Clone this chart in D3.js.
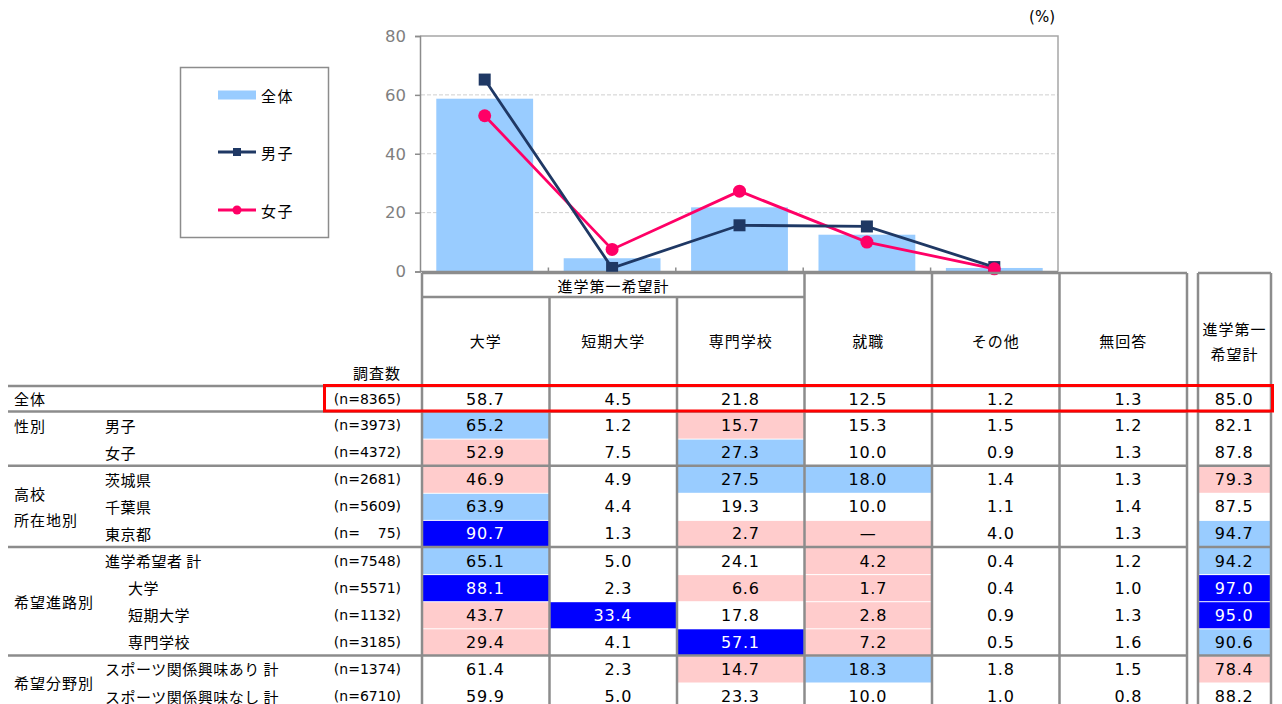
<!DOCTYPE html>
<html><head><meta charset="utf-8">
<script src="https://cdn.jsdelivr.net/npm/d3@7"></script>
<style>
html,body{margin:0;padding:0;background:#fff;}
svg{display:block;}
.jp{font-family:"Noto Sans CJK JP","Noto Sans",sans-serif;}
.num{font-family:"DejaVu Sans","Noto Sans CJK JP",sans-serif;}
</style></head>
<body>
<svg id="c" width="1282" height="704"></svg>
<script>
// ---------- chart data ----------
const categories = ['大学','短期大学','専門学校','就職','その他'];
const overall = [58.7, 4.5, 21.8, 12.5, 1.2];
const male    = [65.2, 1.2, 15.7, 15.3, 1.5];
const female  = [52.9, 7.5, 27.3, 10.0, 0.9];
const yTicks  = [0, 20, 40, 60, 80];
const legendLabels = ['全体','男子','女子'];

// ---------- table data ----------
const tableColumns = ['大学','短期大学','専門学校','就職','その他','無回答'];
const spanHeader = '進学第一希望計';
const totalHeader = ['進学第一','希望計'];
const groupLabels = [['全体'], ['性別'], ['高校','所在地別'], ['希望進路別'], ['希望分野別']];
const groupAlign  = ['middle','top','middle','middle','middle'];
const rowGroup  = [0,1,1,2,2,2,3,3,3,3,4,4];
const rowLevel  = [0,0,0,0,0,0,0,1,1,1,0,0];
const rowLabels = ['','男子','女子','茨城県','千葉県','東京都','進学希望者 計','大学','短期大学','専門学校','スポーツ関係興味あり 計','スポーツ関係興味なし 計'];
const rowN      = ['8365','3973','4372','2681','5609','\u2007\u200775','7548','5571','1132','3185','1374','6710'];
const rowValues = [
  ['58.7','4.5','21.8','12.5','1.2','1.3'],
  ['65.2','1.2','15.7','15.3','1.5','1.2'],
  ['52.9','7.5','27.3','10.0','0.9','1.3'],
  ['46.9','4.9','27.5','18.0','1.4','1.3'],
  ['63.9','4.4','19.3','10.0','1.1','1.4'],
  ['90.7','1.3','2.7','—','4.0','1.3'],
  ['65.1','5.0','24.1','4.2','0.4','1.2'],
  ['88.1','2.3','6.6','1.7','0.4','1.0'],
  ['43.7','33.4','17.8','2.8','0.9','1.3'],
  ['29.4','4.1','57.1','7.2','0.5','1.6'],
  ['61.4','2.3','14.7','18.3','1.8','1.5'],
  ['59.9','5.0','23.3','10.0','1.0','0.8']
];
const rowTotals = ['85.0','82.1','87.8','79.3','87.5','94.7','94.2','97.0','95.0','90.6','78.4','88.2'];
// significance marks: h = higher, l = lower, H = much higher, . = none (last char = total column)
const rowMarks = [
  '.......',
  'h.l....',
  'l.h....',
  'l.hh..l',
  'h......',
  'H.ll..h',
  'h..l..h',
  'H.ll..H',
  'lH.l..H',
  'l.Hl..h',
  '..lh..l',
  '.......'
];
const markFill = {h:'#99CCFF', l:'#FFCCCC', H:'#0000FF'};

const svg = d3.select('#c');
const GRAY = '#8C8C8C';

// ---------- chart ----------
const x = d3.scaleBand().domain(categories).range([421, 1058]).paddingInner(0).paddingOuter(0);
const y = d3.scaleLinear().domain([0, 80]).range([271.5, 36]);
const barW = x.bandwidth() * 0.76;
const cx = d => x(d) + x.bandwidth() / 2;

// gridlines
svg.append('g').selectAll('line').data(yTicks.filter(t => t > 0 && t < 80)).join('line')
  .attr('x1', 421).attr('x2', 1058).attr('y1', d => y(d)).attr('y2', d => y(d))
  .attr('stroke', '#CFCFCF').attr('stroke-width', 1).attr('stroke-dasharray', '4,2');

// bars
svg.append('g').selectAll('rect').data(categories).join('rect')
  .attr('x', d => cx(d) - barW / 2).attr('width', barW)
  .attr('y', (d, i) => y(overall[i])).attr('height', (d, i) => y(0) - y(overall[i]))
  .attr('fill', '#99CCFF');

// plot border (top & right)
svg.append('path').attr('d', `M420,${y(80)}H1058V${y(0)}`).attr('fill', 'none').attr('stroke', '#A6A6A6').attr('stroke-width', 1.5);

// y axis
const yAxis = d3.axisLeft(y).tickValues(yTicks).tickSize(5).tickPadding(9);
const ya = svg.append('g').attr('transform', 'translate(420,0)').call(yAxis);
ya.select('.domain').attr('stroke', GRAY).attr('stroke-width', 1.5);
ya.selectAll('.tick line').attr('stroke', GRAY).attr('stroke-width', 1.5);
ya.selectAll('.tick text').attr('class', 'num').attr('fill', '#7F7F7F').style('font-size', '16.5px');

// x axis line with inward ticks at category boundaries
const xa = svg.append('g');
xa.append('line').attr('x1', 420).attr('x2', 1058).attr('y1', y(0)).attr('y2', y(0)).attr('stroke', GRAY).attr('stroke-width', 1.5);
xa.selectAll('line.tk').data(categories.slice(1)).join('line').attr('class', 'tk')
  .attr('x1', d => x(d)).attr('x2', d => x(d)).attr('y1', y(0) - 4).attr('y2', y(0))
  .attr('stroke', GRAY).attr('stroke-width', 1.5);

// lines
const line = d3.line().x((d, i) => cx(categories[i])).y(d => y(d));
svg.append('path').datum(female).attr('d', line).attr('fill', 'none').attr('stroke', '#FF0066').attr('stroke-width', 2.8);
svg.append('path').datum(male).attr('d', line).attr('fill', 'none').attr('stroke', '#1F3864').attr('stroke-width', 2.8);
svg.append('g').selectAll('rect').data(male).join('rect')
  .attr('x', (d, i) => cx(categories[i]) - 6).attr('y', d => y(d) - 6).attr('width', 12).attr('height', 12)
  .attr('fill', '#1F3864');
svg.append('g').selectAll('circle').data(female).join('circle')
  .attr('cx', (d, i) => cx(categories[i])).attr('cy', d => y(d)).attr('r', 6.5)
  .attr('fill', '#FF0066');

// (%)
svg.append('text').attr('class', 'num').attr('x', 1055).attr('y', 17).attr('text-anchor', 'end')
  .attr('dominant-baseline', 'central').style('font-size', '15px').attr('fill', '#000').text('(%)');

// legend
const lg = svg.append('g');
lg.append('rect').attr('x', 180.5).attr('y', 67.5).attr('width', 148).attr('height', 170)
  .attr('fill', '#fff').attr('stroke', '#8C8C8C').attr('stroke-width', 1.5);
const legY = [95, 152, 210];
lg.append('rect').attr('x', 218).attr('y', legY[0] - 4.5).attr('width', 38).attr('height', 9).attr('fill', '#99CCFF');
lg.append('line').attr('x1', 218).attr('x2', 256).attr('y1', legY[1]).attr('y2', legY[1]).attr('stroke', '#1F3864').attr('stroke-width', 2.8);
lg.append('rect').attr('x', 233).attr('y', legY[1] - 4).attr('width', 8).attr('height', 8).attr('fill', '#1F3864');
lg.append('line').attr('x1', 218).attr('x2', 256).attr('y1', legY[2]).attr('y2', legY[2]).attr('stroke', '#FF0066').attr('stroke-width', 2.8);
lg.append('circle').attr('cx', 237).attr('cy', legY[2]).attr('r', 4.5).attr('fill', '#FF0066');
lg.selectAll('text').data(legendLabels).join('text').attr('class', 'jp')
  .attr('x', 261).attr('y', (d, i) => legY[i]).attr('dominant-baseline', 'central')
  .style('font-size', '15px').style('letter-spacing', '1.5px').attr('fill', '#000').text(d => d);

// ---------- table ----------
const col = d3.scaleBand().domain(tableColumns).range([422, 1187]);
const colC = d => col(d) + col.bandwidth() / 2;
const totL = 1198, totR = 1271, totC = (totL + totR) / 2;
const tableTop = 273, spanLine = 297;
const rowH = 27.1;

// compute row positions
const rowTop = [], rowBot = [], groupSep = [];
rowTop[0] = 386; rowBot[0] = 411.5;
let cur = 411.5, lastGroup = 0;
for (let r = 1; r < rowGroup.length; r++) {
  if (rowGroup[r] !== lastGroup) {
    if (r > 1) groupSep.push(cur);
    lastGroup = rowGroup[r];
  }
  rowTop[r] = cur; rowBot[r] = cur + rowH; cur += rowH;
}
const rowC = r => (rowTop[r] + rowBot[r]) / 2;

const tg = svg.append('g');

// cell fills
rowMarks.forEach((m, r) => {
  m.split('').forEach((ch, c) => {
    if (ch === '.') return;
    const isTot = c === tableColumns.length;
    const x0 = isTot ? totL : col(tableColumns[c]);
    const w = isTot ? totR - totL : col.bandwidth();
    tg.append('rect').attr('x', x0).attr('y', rowTop[r] + 1).attr('width', w).attr('height', rowBot[r] - rowTop[r] - 1)
      .attr('fill', markFill[ch]);
  });
});

const lineG = svg.append('g').attr('stroke', GRAY).attr('stroke-width', 2.5);
// table top lines
lineG.append('line').attr('x1', 422).attr('x2', 1187).attr('y1', tableTop).attr('y2', tableTop);
lineG.append('line').attr('x1', totL).attr('x2', totR).attr('y1', tableTop).attr('y2', tableTop);
lineG.append('line').attr('x1', 422).attr('x2', 805).attr('y1', spanLine).attr('y2', spanLine);
// vertical lines
const vEdges = tableColumns.map(d => col(d)).concat([1187]);
vEdges.forEach((vx, i) => {
  const top = (i === 1 || i === 2) ? spanLine : tableTop;
  lineG.append('line').attr('x1', vx).attr('x2', vx).attr('y1', top).attr('y2', 704);
});
[totL, totR].forEach(vx => lineG.append('line').attr('x1', vx).attr('x2', vx).attr('y1', tableTop).attr('y2', 704));
// horizontal lines: 全体 row top/bottom and group separators
[rowTop[0], rowBot[0]].concat(groupSep).forEach(hy => {
  lineG.append('line').attr('x1', 8).attr('x2', 1187).attr('y1', hy).attr('y2', hy);
  lineG.append('line').attr('x1', totL).attr('x2', totR).attr('y1', hy).attr('y2', hy);
});

// headers
const hdr = svg.append('g').attr('class', 'jp').style('font-size', '15px').style('letter-spacing', '1px').attr('fill', '#000');
hdr.append('text').attr('x', 613.5).attr('y', 285).attr('text-anchor', 'middle').attr('dominant-baseline', 'central').text(spanHeader);
hdr.selectAll('text.ch').data(tableColumns).join('text').attr('class', 'ch')
  .attr('x', d => colC(d)).attr('y', 340).attr('text-anchor', 'middle').attr('dominant-baseline', 'central').text(d => d);
hdr.selectAll('text.th').data(totalHeader).join('text').attr('class', 'th')
  .attr('x', totC).attr('y', (d, i) => 328 + i * 25).attr('text-anchor', 'middle').attr('dominant-baseline', 'central').text(d => d);
hdr.append('text').attr('x', 401).attr('y', 372).attr('text-anchor', 'end').attr('dominant-baseline', 'central').text('調査数');

// group labels
groupLabels.forEach((lab, g) => {
  const rs = rowGroup.map((v, i) => v === g ? i : -1).filter(i => i >= 0);
  let yc;
  if (groupAlign[g] === 'top') yc = rowC(rs[0]);
  else yc = (rowTop[rs[0]] + rowBot[rs[rs.length - 1]]) / 2;
  lab.forEach((t, k) => {
    hdr.append('text').attr('x', 14).attr('y', yc + (k - (lab.length - 1) / 2) * 26)
      .attr('dominant-baseline', 'central').text(t);
  });
});
// row labels
hdr.selectAll('text.rl').data(rowLabels).join('text').attr('class', 'rl')
  .attr('x', (d, i) => rowLevel[i] ? 128 : 105).attr('y', (d, i) => rowC(i))
  .attr('dominant-baseline', 'central').style('letter-spacing', '0.5px').text(d => d);

// n labels
svg.append('g').selectAll('text').data(rowN).join('text').attr('class', 'num')
  .attr('x', 401).attr('y', (d, i) => rowC(i)).attr('text-anchor', 'end').attr('dominant-baseline', 'central')
  .style('font-size', '14px').attr('fill', '#000').text(d => `(n=${d})`);

// values
const vg = svg.append('g').attr('class', 'num').style('font-size', '16px').style('letter-spacing', '0.8px');
rowValues.forEach((vals, r) => {
  vals.concat([rowTotals[r]]).forEach((v, c) => {
    const isTot = c === tableColumns.length;
    const center = isTot ? totC : colC(tableColumns[c]);
    const dash = v === '—';
    vg.append('text')
      .attr('x', dash ? center : center + 19)
      .attr('y', rowC(r) + 0.5)
      .attr('text-anchor', dash ? 'middle' : 'end')
      .attr('dominant-baseline', 'central')
      .attr('fill', rowMarks[r][c] === 'H' ? '#fff' : '#000')
      .text(v);
  });
});

// red highlight box
svg.append('rect').attr('x', 324.5).attr('y', 385.5).attr('width', 948).attr('height', 25.5)
  .attr('fill', 'none').attr('stroke', '#FF0000').attr('stroke-width', 3);
</script>
</body></html>
